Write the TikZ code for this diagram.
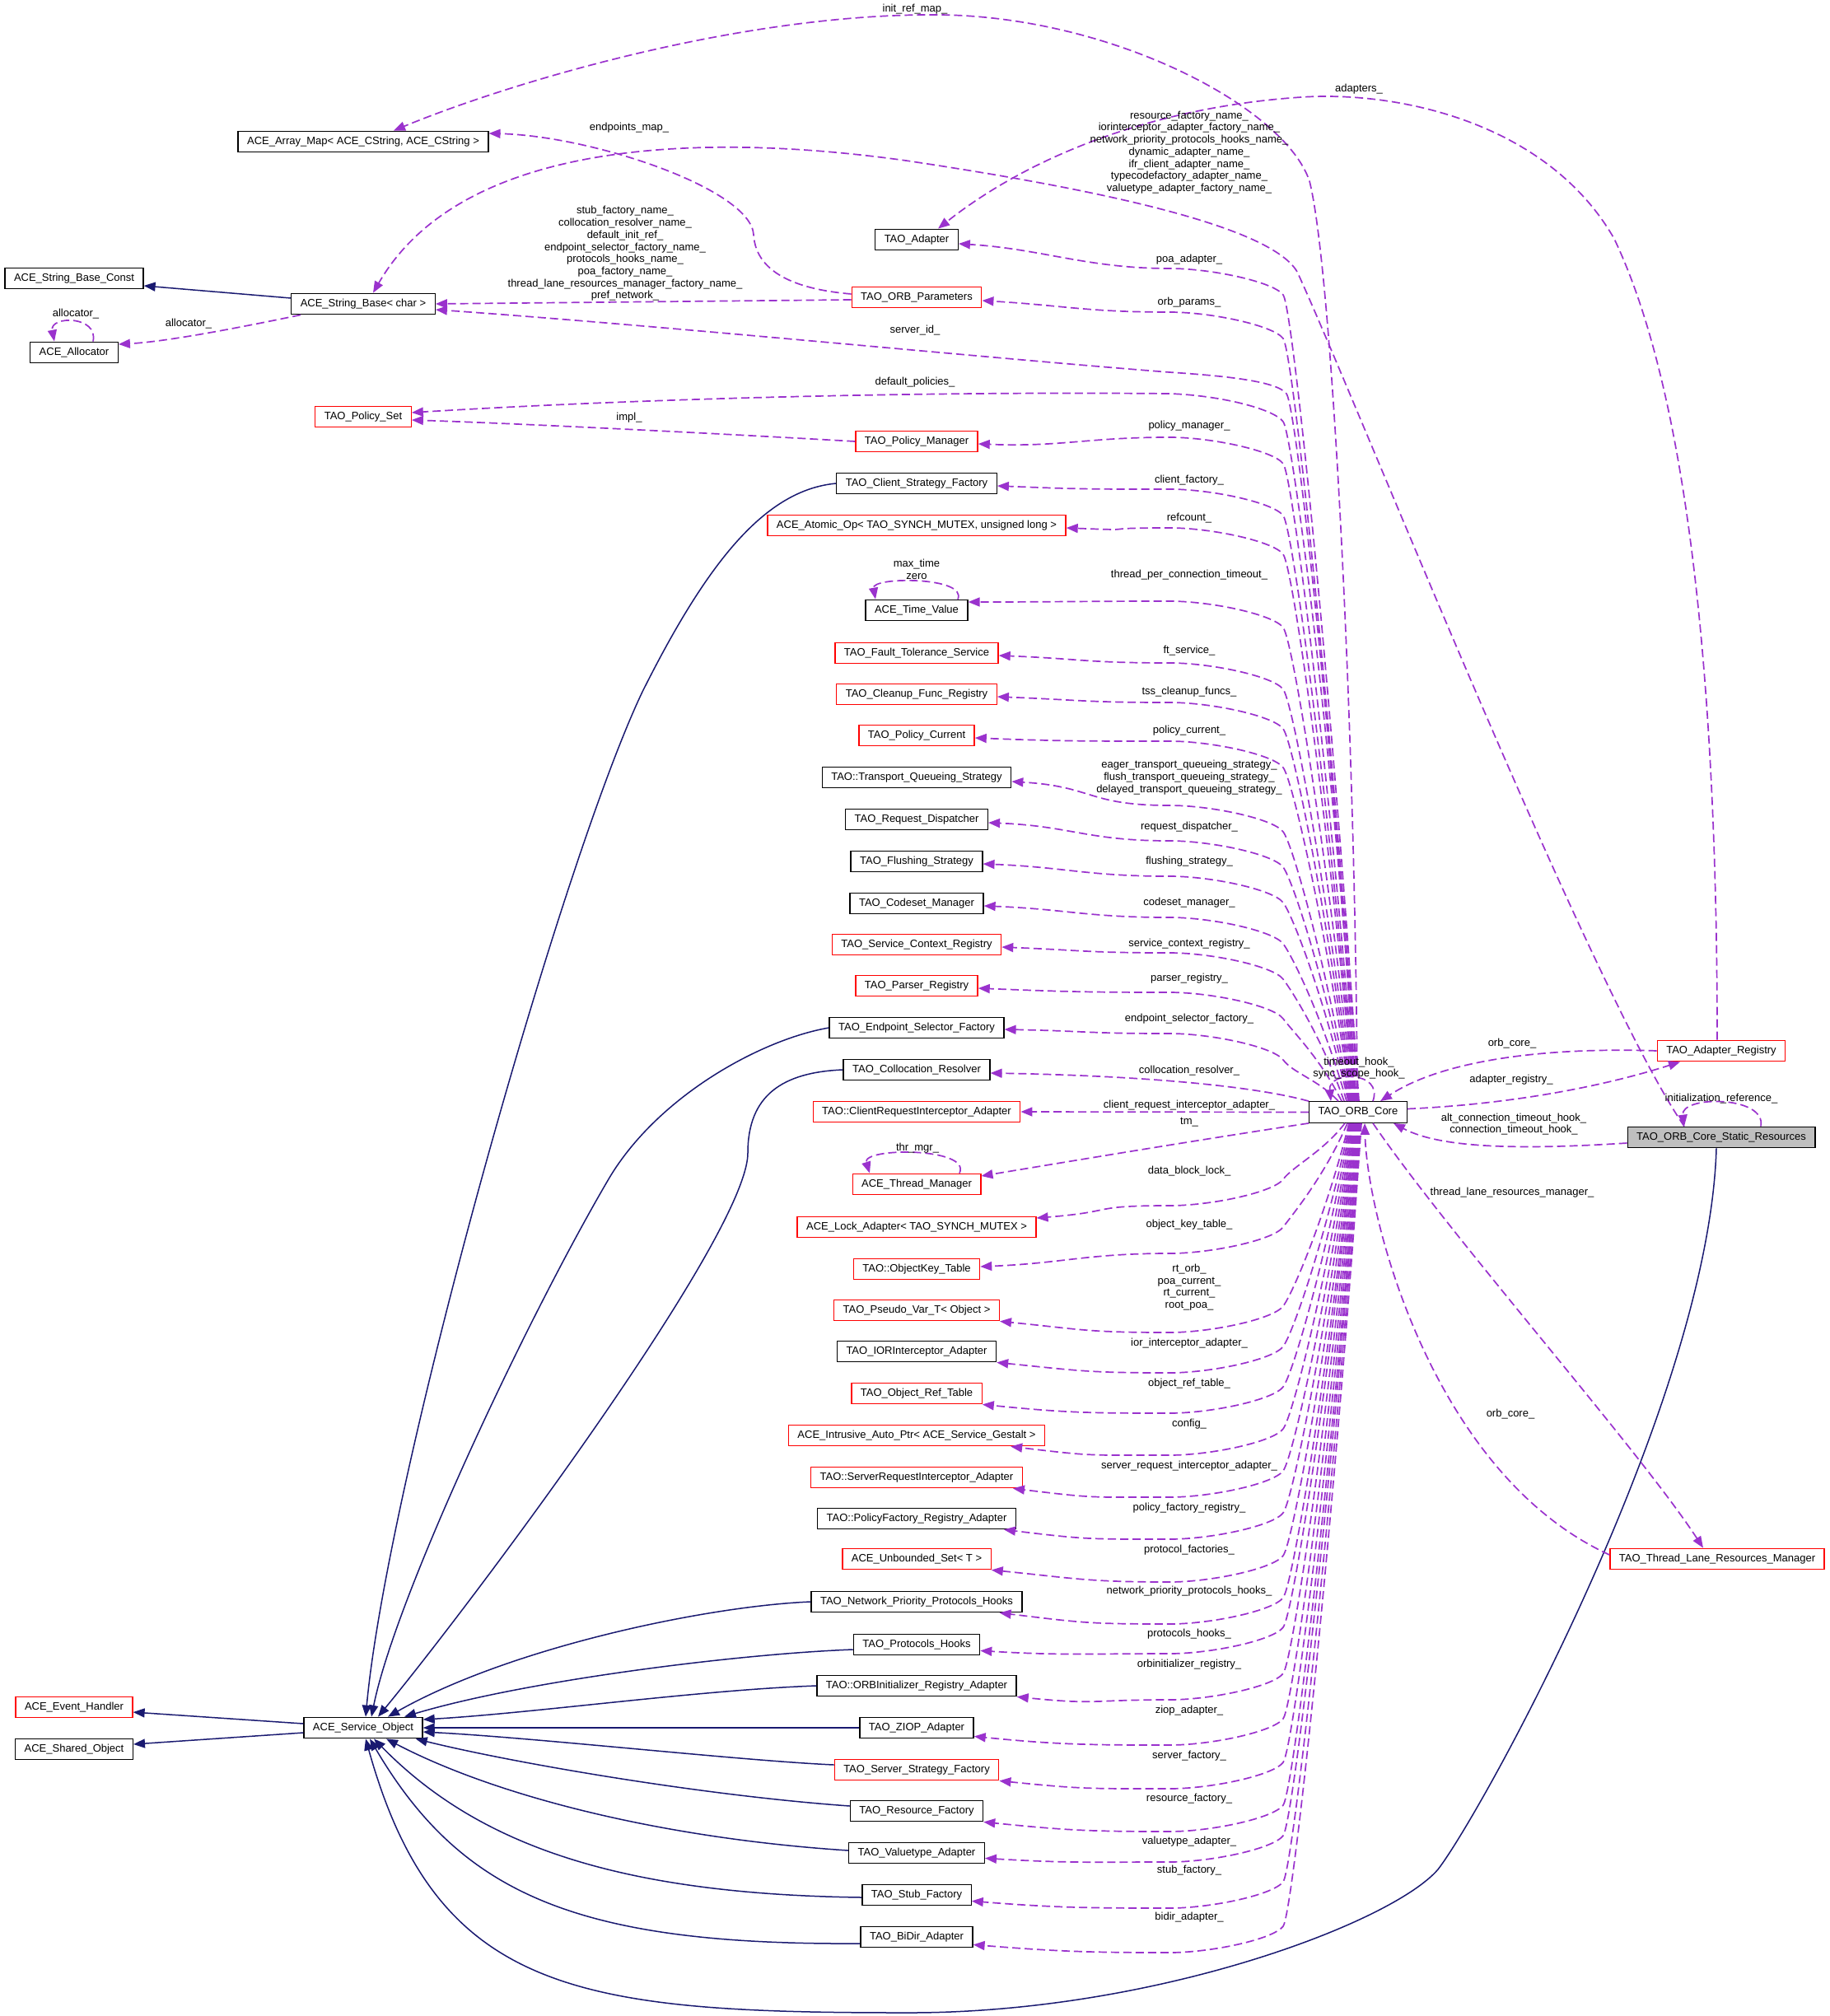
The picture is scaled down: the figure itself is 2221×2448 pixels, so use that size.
\documentclass[tikz,border=0pt]{standalone}
\usepackage{fontspec}
\setmainfont{Liberation Sans}
\usetikzlibrary{arrows.meta}
\definecolor{depc}{HTML}{9A32CD}
\definecolor{inhc}{HTML}{191970}
\definecolor{trc}{HTML}{FF0000}
\definecolor{grayf}{HTML}{BFBFBF}
\newcommand\nf{\fontsize{13}{14.7}\selectfont}
\newcommand\orbup[4]{\draw[dep] ([xshift=#2pt]orb.north) .. controls +({-(91+(#2))*0.35},{-0.5*(1306-#1)}) and +(12,16) .. (1558,#1+32) .. controls +(-12,-16) and +(50,0) .. (1420,#1) .. controls +(-100,0) and +(100,#4) .. (#3);}
\newcommand\orbdown[4]{\draw[dep] ([xshift=#2pt]orb.south) .. controls +({-(91+(#2))*0.35},{0.5*(#1-1395)}) and +(12,-16) .. (1558,#1-32) .. controls +(-12,16) and +(50,0) .. (1420,#1) .. controls +(-100,0) and +(100,#4) .. (#3);}
\begin{document}
\begin{tikzpicture}[x=1pt,y=-1pt,
 cls/.style={draw=black,line width=1.3pt,fill=white,rectangle,minimum height=25.5pt,inner xsep=11pt,inner ysep=0pt,font=\nf},
 trunc/.style={cls,draw=trc},
 rootc/.style={cls,fill=grayf},
 lbl/.style={font=\nf,inner sep=0pt,align=center},
 dep/.style={draw=depc,line width=1.7pt,dash pattern=on 10pt off 5pt,-{Triangle[length=14pt,width=11pt]}},
 inh/.style={draw=inhc,line width=1.5pt,-{Triangle[length=14pt,width=11pt]}}]
\useasboundingbox (0,0) rectangle (2221,2448);
% ---------- nodes ----------
\node[cls] (am) at (441,172) {ACE\_Array\_Map< ACE\_CString, ACE\_CString >};
\node[cls] (sb) at (441,369) {ACE\_String\_Base< char >};
\node[trunc] (ps) at (441,506) {TAO\_Policy\_Set};
\node[cls] (so) at (441,2098) {ACE\_Service\_Object};
\node[cls] (sbc) at (90,338) {ACE\_String\_Base\_Const};
\node[cls] (alloc) at (90,428) {ACE\_Allocator};
\node[trunc] (eh) at (90,2073) {ACE\_Event\_Handler};
\node[cls] (shared) at (90,2124) {ACE\_Shared\_Object};

\node[cls] (adp) at (1113,291) {TAO\_Adapter};
\node[trunc] (op) at (1113,361) {TAO\_ORB\_Parameters};
\node[trunc] (pm) at (1113,536) {TAO\_Policy\_Manager};
\node[cls] (csf) at (1113,587) {TAO\_Client\_Strategy\_Factory};
\node[trunc] (aop) at (1113,638) {ACE\_Atomic\_Op< TAO\_SYNCH\_MUTEX, unsigned long >};
\node[cls] (tv) at (1113,741) {ACE\_Time\_Value};
\node[trunc] (fts) at (1113,793) {TAO\_Fault\_Tolerance\_Service};
\node[trunc] (cfr) at (1113,843) {TAO\_Cleanup\_Func\_Registry};
\node[trunc] (pc) at (1113,893) {TAO\_Policy\_Current};
\node[cls] (tqs) at (1113,944) {TAO::Transport\_Queueing\_Strategy};
\node[cls] (rd) at (1113,995) {TAO\_Request\_Dispatcher};
\node[cls] (fs) at (1113,1046) {TAO\_Flushing\_Strategy};
\node[cls] (cm) at (1113,1097) {TAO\_Codeset\_Manager};
\node[trunc] (scr) at (1113,1147) {TAO\_Service\_Context\_Registry};
\node[trunc] (pr) at (1113,1197) {TAO\_Parser\_Registry};
\node[cls] (esf) at (1113,1248) {TAO\_Endpoint\_Selector\_Factory};
\node[cls] (cr) at (1113,1299) {TAO\_Collocation\_Resolver};
\node[trunc] (cria) at (1113,1350) {TAO::ClientRequestInterceptor\_Adapter};
\node[trunc] (tmgr) at (1113,1438) {ACE\_Thread\_Manager};
\node[trunc] (lock) at (1113,1490) {ACE\_Lock\_Adapter< TAO\_SYNCH\_MUTEX >};
\node[trunc] (okt) at (1113,1541) {TAO::ObjectKey\_Table};
\node[trunc] (pseudo) at (1113,1591) {TAO\_Pseudo\_Var\_T< Object >};
\node[cls] (iora) at (1113,1641) {TAO\_IORInterceptor\_Adapter};
\node[trunc] (ort) at (1113,1692) {TAO\_Object\_Ref\_Table};
\node[trunc] (iap) at (1113,1743) {ACE\_Intrusive\_Auto\_Ptr< ACE\_Service\_Gestalt >};
\node[trunc] (sria) at (1113,1794) {TAO::ServerRequestInterceptor\_Adapter};
\node[cls] (pfra) at (1113,1844) {TAO::PolicyFactory\_Registry\_Adapter};
\node[trunc] (us) at (1113,1893) {ACE\_Unbounded\_Set< T >};
\node[cls] (nph) at (1113,1945) {TAO\_Network\_Priority\_Protocols\_Hooks};
\node[cls] (ph) at (1113,1997) {TAO\_Protocols\_Hooks};
\node[cls] (oira) at (1113,2047) {TAO::ORBInitializer\_Registry\_Adapter};
\node[cls] (ziop) at (1113,2098) {TAO\_ZIOP\_Adapter};
\node[trunc] (ssf) at (1113,2149) {TAO\_Server\_Strategy\_Factory};
\node[cls] (rf) at (1113,2199) {TAO\_Resource\_Factory};
\node[cls] (va) at (1113,2250) {TAO\_Valuetype\_Adapter};
\node[cls] (stub) at (1113,2301) {TAO\_Stub\_Factory};
\node[cls] (bidir) at (1113,2352) {TAO\_BiDir\_Adapter};

\node[cls] (orb) at (1649,1350.5) {TAO\_ORB\_Core};
\node[trunc] (ar) at (2090,1276) {TAO\_Adapter\_Registry};
\node[rootc] (sr) at (2090,1381) {TAO\_ORB\_Core\_Static\_Resources};
\node[trunc] (tlrm) at (2085,1893) {TAO\_Thread\_Lane\_Resources\_Manager};

% ---------- inheritance ----------
\draw[inh] ([yshift=7pt]sb.west) -- ([yshift=-9pt]sbc.east);
\draw[inh] ([yshift=5pt]so.west) -- ([yshift=-6pt]eh.east);
\draw[inh] ([yshift=-6pt]so.west) -- ([yshift=6pt]shared.east);
\draw[inh] (csf.west) .. controls (930,595) and (860,680) .. (780,840) .. controls (680,1050) and (470,1800) .. ([xshift=3pt]so.north);
\draw[inh] (esf.west) .. controls (925,1262) and (800,1330) .. (740,1430) .. controls (640,1600) and (480,1940) .. ([xshift=10pt]so.north);
\draw[inh] (cr.west) .. controls (950,1302) and (908,1330) .. (908,1400) .. controls (908,1500) and (570,1950) .. ([xshift=18pt]so.north);
\draw[inh] (nph.west) .. controls (860,1950) and (620,2000) .. ([xshift=30pt]so.north);
\draw[inh] ([yshift=-6pt]ph.west) .. controls (900,2008) and (640,2040) .. ([xshift=50pt]so.north);
\draw[inh] (oira.west) .. controls (850,2052) and (650,2080) .. ([yshift=10pt]so.east);
\draw[inh] (ziop.west) -- (so.east);
\draw[inh] ([yshift=6pt]ssf.west) .. controls (900,2138) and (650,2110) .. ([yshift=-5pt]so.east);
\draw[inh] ([yshift=6pt]rf.west) .. controls (850,2180) and (620,2140) .. ([xshift=-9pt]so.south east);
\draw[inh] ([yshift=3pt]va.west) .. controls (800,2232) and (600,2180) .. ([xshift=28pt]so.south);
\draw[inh] ([yshift=-3pt]stub.west) .. controls (750,2300) and (580,2240) .. ([xshift=13pt]so.south);
\draw[inh] ([yshift=-8pt]bidir.west) .. controls (700,2362) and (560,2300) .. ([xshift=8pt]so.south);
\draw[inh] ([xshift=-6pt]sr.south) .. controls (2075,1700) and (1800,2200) .. (1746,2270) .. controls (1690,2335) and (1400,2445) .. (1100,2444) .. controls (700,2444) and (530,2420) .. ([xshift=3pt]so.south);

% ---------- usage: top area ----------
\draw[dep] ([xshift=-1pt]orb.north) .. controls (1646,900) and (1618,330) .. (1590,220) .. controls (1560,130) and (1350,20) .. (1140,18) .. controls (900,16) and (620,100) .. ([xshift=37pt]am.north);
\node[lbl] at (1111,11) {init\_ref\_map\_};
\draw[dep] ([xshift=-5pt]ar.north) .. controls (2085,900) and (2060,500) .. (1960,290) .. controls (1880,150) and (1700,110) .. (1580,118) .. controls (1400,130) and (1250,190) .. ([xshift=26pt]adp.north);
\node[lbl] at (1650,108) {adapters\_};
\draw[dep] ([xshift=-45pt]sr.north) .. controls (1930,1200) and (1640,470) .. (1575,330) .. controls (1540,270) and (1300,225) .. (1100,195) .. controls (850,160) and (560,170) .. ([xshift=12pt]sb.north);
\node[lbl] at (1444,185) {resource\_factory\_name\_\\iorinterceptor\_adapter\_factory\_name\_\\network\_priority\_protocols\_hooks\_name\_\\dynamic\_adapter\_name\_\\ifr\_client\_adapter\_name\_\\typecodefactory\_adapter\_name\_\\valuetype\_adapter\_factory\_name\_};
\draw[dep] ([yshift=4pt]op.west) .. controls (975,352) and (918,335) .. (915,285) .. controls (912,230) and (720,165) .. ([yshift=10pt]am.east);
\node[lbl] at (764,155) {endpoints\_map\_};
\draw[dep] ([yshift=-3pt]op.west) -- (sb.east);
\node[lbl] at (759,308) {stub\_factory\_name\_\\collocation\_resolver\_name\_\\default\_init\_ref\_\\endpoint\_selector\_factory\_name\_\\protocols\_hooks\_name\_\\poa\_factory\_name\_\\thread\_lane\_resources\_manager\_factory\_name\_\\pref\_network\_};
\draw[dep] ([xshift=-76pt]sb.south) .. controls (280,400) and (200,415) .. ([yshift=10pt]alloc.east);
\node[lbl] at (229,393) {allocator\_};
\draw[dep] ([xshift=23pt]alloc.north) .. controls (120,383) and (60,383) .. ([xshift=-24pt]alloc.north);
\node[lbl] at (92,381) {allocator\_};
\draw[dep] ([xshift=-3pt]orb.north) .. controls +(-25,-420) and +(12,16) .. (1562,478) .. controls +(-12,-16) and +(60,4) .. (1420,452) .. controls (1200,435) and (800,395) .. ([yshift=-7pt]sb.east);
\node[lbl] at (1111,401) {server\_id\_};
\draw[dep] ([xshift=-2pt]orb.north) .. controls +(-25,-400) and +(12,16) .. (1558,512) .. controls +(-12,-16) and +(60,2) .. (1420,478) .. controls (1100,475) and (760,485) .. ([yshift=5pt]ps.east);
\node[lbl] at (1111,464) {default\_policies\_};
\draw[dep] (pm.west) .. controls (900,528) and (650,515) .. ([yshift=-4pt]ps.east);
\node[lbl] at (764,507) {impl\_};

% ---------- usage: ORB core to upper column ----------
\orbup{326}{1}{[yshift=-5pt]adp.east}{6}
\node[lbl] at (1444,315) {poa\_adapter\_};
\orbup{379}{0}{[yshift=-4pt]op.east}{6}
\node[lbl] at (1444,367) {orb\_params\_};
\orbup{531}{-3}{[yshift=-3pt]pm.east}{4}
\node[lbl] at (1444,517) {policy\_manager\_};
\orbup{594}{-4}{[yshift=-3pt]csf.east}{4}
\node[lbl] at (1444,583) {client\_factory\_};
\orbup{641}{-5}{[yshift=-3pt]aop.east}{4}
\node[lbl] at (1444,629) {refcount\_};
\orbup{730}{-6}{[yshift=10pt]tv.east}{0}
\node[lbl] at (1444,698) {thread\_per\_connection\_timeout\_};
\draw[dep] ([xshift=50pt]tv.north) .. controls (1175,700) and (1058,700) .. ([xshift=-50pt]tv.north);
\node[lbl] at (1113,691) {max\_time\\zero};
\orbup{805}{-7}{[yshift=-3pt]fts.east}{4}
\node[lbl] at (1444,790) {ft\_service\_};
\orbup{853}{-8}{[yshift=-3pt]cfr.east}{4}
\node[lbl] at (1444,840) {tss\_cleanup\_funcs\_};
\orbup{900}{-9}{[yshift=-3pt]pc.east}{4}
\node[lbl] at (1444,887) {policy\_current\_};
\orbup{978}{-10}{[yshift=-5pt]tqs.east}{6}
\node[lbl] at (1444,944) {eager\_transport\_queueing\_strategy\_\\flush\_transport\_queueing\_strategy\_\\delayed\_transport\_queueing\_strategy\_};
\orbup{1021}{-11}{[yshift=-4pt]rd.east}{4}
\node[lbl] at (1444,1004) {request\_dispatcher\_};
\orbup{1064}{-12}{[yshift=-3pt]fs.east}{4}
\node[lbl] at (1444,1046) {flushing\_strategy\_};
\orbup{1114}{-14}{[yshift=-3pt]cm.east}{4}
\node[lbl] at (1444,1096) {codeset\_manager\_};
\orbup{1157}{-17}{[yshift=-3pt]scr.east}{4}
\node[lbl] at (1444,1146) {service\_context\_registry\_};
\orbup{1205}{-20}{[yshift=-3pt]pr.east}{4}
\node[lbl] at (1444,1188) {parser\_registry\_};
\orbup{1255}{-24}{[yshift=-2pt]esf.east}{2}
\node[lbl] at (1444,1237) {endpoint\_selector\_factory\_};
\draw[dep] (orb.north west) .. controls (1520,1318) and (1380,1306) .. ([yshift=-4pt]cr.east);
\node[lbl] at (1444,1300) {collocation\_resolver\_};
\draw[dep] (orb.west) -- (cria.east);
\node[lbl] at (1444,1342) {client\_request\_interceptor\_adapter\_};
\draw[dep] (orb.south west) .. controls (1450,1385) and (1300,1410) .. ([yshift=10pt]tmgr.east);
\node[lbl] at (1444,1363) {tm\_};
\draw[dep] ([xshift=52pt]tmgr.north) .. controls (1180,1393) and (1046,1393) .. ([xshift=-57pt]tmgr.north);
\node[lbl] at (1114,1394) {thr\_mgr\_};

% ---------- usage: ORB core to lower column ----------
\orbdown{1464}{-16}{[yshift=11pt]lock.east}{-8}
\node[lbl] at (1444,1422) {data\_block\_lock\_};
\orbdown{1522}{-13}{[yshift=3pt]okt.east}{-4}
\node[lbl] at (1444,1487) {object\_key\_table\_};
\orbdown{1618}{-11}{pseudo.south east}{10}
\node[lbl] at (1444,1563) {rt\_orb\_\\poa\_current\_\\rt\_current\_\\root\_poa\_};
\orbdown{1667}{-10}{iora.south east}{10}
\node[lbl] at (1444,1631) {ior\_interceptor\_adapter\_};
\orbdown{1716}{-9}{ort.south east}{10}
\node[lbl] at (1444,1680) {object\_ref\_table\_};
\orbdown{1767}{-8}{[xshift=-42pt]iap.south east}{12}
\node[lbl] at (1444,1729) {config\_};
\orbdown{1818}{-7}{[xshift=-12pt]sria.south east}{12}
\node[lbl] at (1444,1780) {server\_request\_interceptor\_adapter\_};
\orbdown{1869}{-6}{[xshift=-15pt]pfra.south east}{12}
\node[lbl] at (1444,1831) {policy\_factory\_registry\_};
\orbdown{1921}{-5}{us.south east}{10}
\node[lbl] at (1444,1882) {protocol\_factories\_};
\orbdown{1972}{-4}{[xshift=-28pt]nph.south east}{12}
\node[lbl] at (1444,1932) {network\_priority\_protocols\_hooks\_};
\orbdown{2008}{-3}{[yshift=6pt]ph.south east}{6}
\node[lbl] at (1444,1984) {protocols\_hooks\_};
\orbdown{2064}{-2}{oira.south east}{10}
\node[lbl] at (1444,2021) {orbinitializer\_registry\_};
\orbdown{2119}{-1}{[yshift=3pt]ziop.south east}{10}
\node[lbl] at (1444,2077) {ziop\_adapter\_};
\orbdown{2172}{0}{ssf.south east}{10}
\node[lbl] at (1444,2132) {server\_factory\_};
\orbdown{2224}{1}{rf.south east}{10}
\node[lbl] at (1444,2184) {resource\_factory\_};
\orbdown{2261}{2}{[yshift=7pt]va.south east}{6}
\node[lbl] at (1444,2236) {valuetype\_adapter\_};
\orbdown{2317}{3}{[yshift=6pt]stub.south east}{8}
\node[lbl] at (1444,2271) {stub\_factory\_};
\orbdown{2371}{4}{[yshift=4pt]bidir.south east}{8}
\node[lbl] at (1444,2328) {bidir\_adapter\_};

% ---------- right side ----------
\draw[dep] ([xshift=18pt]orb.north) .. controls (1680,1300) and (1612,1300) .. ([xshift=-33pt]orb.north);
\node[lbl] at (1650,1297) {timeout\_hook\_\\sync\_scope\_hook\_};
\draw[dep] (ar.west) .. controls (1900,1272) and (1760,1282) .. ([xshift=27pt]orb.north);
\node[lbl] at (1836,1267) {orb\_core\_};
\draw[dep] ([yshift=4pt]orb.east) .. controls (1850,1340) and (1960,1315) .. ([xshift=-50pt]ar.south);
\node[lbl] at (1835,1311) {adapter\_registry\_};
\draw[dep] ([xshift=48pt]sr.north) .. controls (2145,1330) and (2040,1330) .. ([xshift=-45pt]sr.north);
\node[lbl] at (2090,1334) {initialization\_reference\_};
\draw[dep] ([yshift=-7pt]sr.west) .. controls (1850,1396) and (1750,1395) .. ([xshift=-17pt]orb.south east);
\node[lbl] at (1838,1365) {alt\_connection\_timeout\_hook\_\\connection\_timeout\_hook\_};
\draw[dep] ([xshift=18pt]orb.south) .. controls (1760,1500) and (1990,1760) .. ([xshift=-17pt]tlrm.north);
\node[lbl] at (1836,1448) {thread\_lane\_resources\_manager\_};
\draw[dep] ([yshift=5pt]tlrm.west) .. controls (1740,1790) and (1660,1480) .. ([xshift=8pt]orb.south);
\node[lbl] at (1834,1717) {orb\_core\_};
\end{tikzpicture}
\end{document}
